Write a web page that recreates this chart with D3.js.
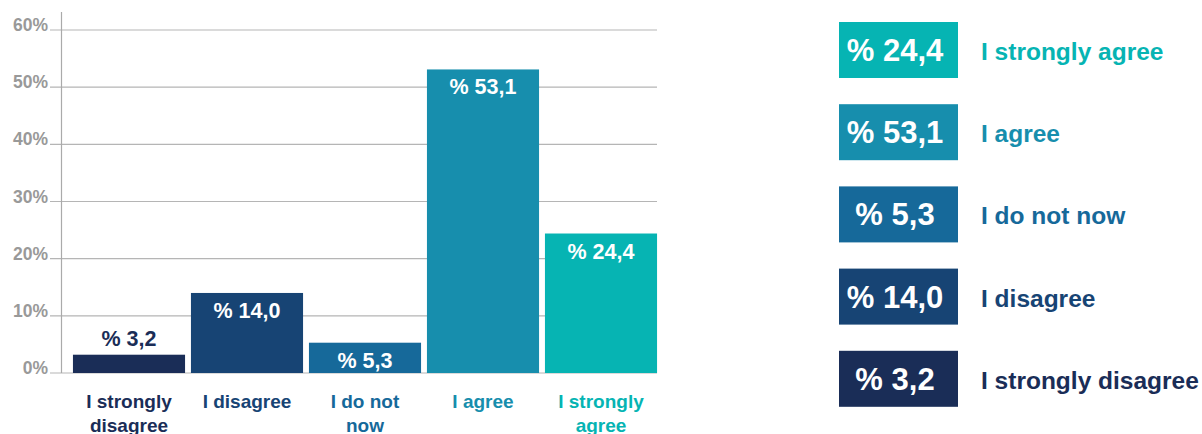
<!DOCTYPE html>
<html>
<head>
<meta charset="utf-8">
<script src="https://cdn.jsdelivr.net/npm/d3@7"></script>
<style>
  body { margin: 0; background: #fff; }
  text { font-family: "Liberation Sans", Arial, sans-serif; font-weight: bold; }
</style>
</head>
<body>
<div id="chart"></div>
<script>
const categories = ["I strongly disagree", "I disagree", "I do not now", "I agree", "I strongly agree"];
const axisLabels = [["I strongly", "disagree"], ["I disagree"], ["I do not", "now"], ["I agree"], ["I strongly", "agree"]];
const values = [3.2, 14.0, 5.3, 53.1, 24.4];
const valueLabels = ["% 3,2", "% 14,0", "% 5,3", "% 53,1", "% 24,4"];
const colors = ["#1a2d57", "#174474", "#16699a", "#178ead", "#06b4b3"];
const yTicks = [0, 10, 20, 30, 40, 50, 60];

const width = 1202, height = 434;

const svg = d3.select("#chart").append("svg")
    .attr("width", width)
    .attr("height", height);

const x = d3.scaleBand()
    .domain(categories)
    .range([70, 660])
    .paddingInner(0.05)
    .paddingOuter(0.025);

const y = d3.scaleLinear()
    .domain([0, 60])
    .range([373, 30]);

// gridlines
svg.append("g")
    .selectAll("line")
    .data(yTicks)
    .enter().append("line")
    .attr("x1", 50)
    .attr("x2", 657)
    .attr("y1", d => y(d))
    .attr("y2", d => y(d))
    .attr("stroke", "#b5b5b5")
    .attr("stroke-width", 1.2);

// y axis line
svg.append("line")
    .attr("x1", 61.5).attr("x2", 61.5)
    .attr("y1", 12).attr("y2", 373)
    .attr("stroke", "#aaa")
    .attr("stroke-width", 1.2);

// y tick labels
svg.append("g")
    .selectAll("text")
    .data(yTicks)
    .enter().append("text")
    .attr("x", 48)
    .attr("y", d => y(d) + 1)
    .attr("text-anchor", "end")
    .style("font-size", "17.5px")
    .style("fill", "#999")
    .text(d => d + "%");

// bars
svg.append("g")
    .selectAll("rect")
    .data(categories)
    .enter().append("rect")
    .attr("x", d => x(d))
    .attr("y", (d, i) => y(values[i]))
    .attr("width", x.bandwidth())
    .attr("height", (d, i) => y(0) - y(values[i]))
    .attr("fill", (d, i) => colors[i]);

// value labels
svg.append("g")
    .selectAll("text")
    .data(categories)
    .enter().append("text")
    .attr("x", d => x(d) + x.bandwidth() / 2)
    .attr("y", (d, i) => values[i] < 5 ? y(values[i]) - 9 : y(values[i]) + 25)
    .attr("text-anchor", "middle")
    .style("font-size", "21.5px")
    .style("fill", (d, i) => values[i] < 5 ? colors[i] : "#fff")
    .text((d, i) => valueLabels[i]);

// category labels
const cat = svg.append("g")
    .selectAll("text")
    .data(categories)
    .enter().append("text")
    .attr("x", d => x(d) + x.bandwidth() / 2)
    .attr("y", 408)
    .attr("text-anchor", "middle")
    .style("font-size", "19px")
    .style("fill", (d, i) => colors[i]);

cat.selectAll("tspan")
    .data((d, i) => axisLabels[i])
    .enter().append("tspan")
    .attr("x", function() { return d3.select(this.parentNode).attr("x"); })
    .attr("dy", (d, j) => j === 0 ? 0 : 24)
    .text(d => d);

// legend
const legendOrder = [4, 3, 2, 1, 0];
const legend = svg.append("g")
    .selectAll("g")
    .data(legendOrder)
    .enter().append("g")
    .attr("transform", (d, i) => `translate(839,${22 + i * 82.2})`);

legend.append("rect")
    .attr("width", 119)
    .attr("height", 56)
    .attr("fill", d => colors[d]);

legend.append("text")
    .attr("x", 56)
    .attr("y", 39)
    .attr("text-anchor", "middle")
    .style("font-size", "31px")
    .style("fill", "#fff")
    .text(d => valueLabels[d]);

legend.append("text")
    .attr("x", 142)
    .attr("y", 38)
    .style("font-size", "24.5px")
    .style("fill", d => colors[d])
    .text(d => categories[d]);
</script>
</body>
</html>
